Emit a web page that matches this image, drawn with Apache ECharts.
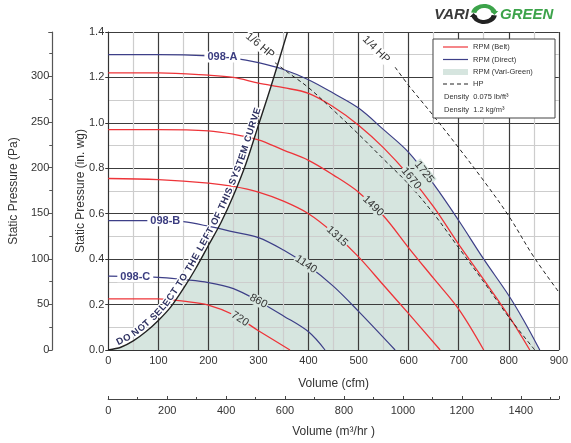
<!DOCTYPE html>
<html><head><meta charset="utf-8">
<script src="https://cdn.jsdelivr.net/npm/echarts@6/dist/echarts.min.js"></script>
<style>html,body{margin:0;padding:0;background:#fff}#c{width:571px;height:443px}</style>
</head><body><div id="c"></div>
<script>
const FONT = 'Liberation Sans, Arial, sans-serif';
// ---- data (x = cfm, y = in. wg) ----
const rpm1725 = [[0,1.30],[100,1.30],[200,1.295],[250,1.285],[300,1.265],[350,1.235],[400,1.19],[450,1.13],[500,1.065],[550,0.97],[600,0.87],[650,0.73],[700,0.57],[750,0.40],[800,0.24],[830,0.13],[862,0]];
const rpm1670 = [[0,1.22],[100,1.22],[200,1.21],[250,1.20],[300,1.175],[350,1.155],[400,1.13],[450,1.07],[500,0.99],[550,0.89],[600,0.77],[650,0.63],[700,0.465],[750,0.31],[800,0.15],[842,0]];
const rpm1490 = [[0,0.97],[100,0.97],[200,0.965],[250,0.95],[300,0.925],[350,0.88],[400,0.835],[450,0.77],[500,0.695],[550,0.59],[600,0.45],[650,0.315],[700,0.18],[750,0]];
const rpm1315 = [[0,0.755],[100,0.75],[200,0.735],[250,0.72],[300,0.695],[350,0.655],[400,0.60],[450,0.515],[500,0.41],[550,0.285],[600,0.16],[663,0]];
const rpm1140 = [[0,0.57],[100,0.57],[150,0.565],[200,0.545],[250,0.52],[300,0.495],[350,0.44],[400,0.37],[450,0.28],[500,0.17],[573,0]];
const rpm860  = [[0,0.325],[100,0.32],[150,0.31],[200,0.297],[250,0.27],[300,0.215],[350,0.15],[400,0.08],[433,0]];
const rpm720  = [[0,0.225],[100,0.225],[150,0.215],[200,0.198],[250,0.155],[300,0.085],[363,0]];
const hp16 = [[333,1.265],[360,1.22],[400,1.155],[450,1.055],[500,0.95],[550,0.84],[600,0.73],[650,0.60],[700,0.45],[750,0.30],[800,0.145],[852,0]];
const hp14 = [[573,1.245],[600,1.165],[650,1.03],[700,0.89],[750,0.745],[800,0.59],[850,0.41],[900,0.255]];
const systemCurve = [[0,0],[25,0.012],[50,0.04],[75,0.08],[100,0.13],[125,0.19],[150,0.27],[175,0.36],[200,0.46],[225,0.56],[250,0.68],[275,0.82],[300,0.99],[325,1.16],[358,1.40]];
const cfmMax = 900, wgMax = 1.4;
const PA_PER_WG = 249.089, M3H_PER_CFM = 1.699;
const curveLabels = [
  {text:'1725', data:rpm1725, at:631},
  {text:'1670', data:rpm1670, at:605},
  {text:'1490', data:rpm1490, at:529},
  {text:'1315', data:rpm1315, at:457},
  {text:'1140', data:rpm1140, at:395},
  {text:'860',  data:rpm860,  at:300},
  {text:'720',  data:rpm720,  at:263}
];
const modelLabels = [
  {text:'098-A', data:rpm1725, at:228},
  {text:'098-B', data:rpm1140, at:114},
  {text:'098-C', data:rpm860,  at:54}
];
const hpLabels = [
  {text:'1/6 HP', x:303, y:1.34, angle:-40},
  {text:'1/4 HP', x:535, y:1.323, angle:-45}
];
const curveText = 'DO NOT SELECT TO THE LEFT OF THIS SYSTEM CURVE';

const RED = '#ee3439', BLUE = '#3d3f88', FILL = '#d6e5df', TXT = '#333';
const chart = echarts.init(document.getElementById('c'), null, {renderer:'canvas'});

function lineSeries(data, color, w, extra){
  return Object.assign({type:'line', data, smooth:0.35, symbol:'none', silent:true,
    lineStyle:{color, width:w}, z:3}, extra||{});
}
const option = {
  animation:false,
  textStyle:{fontFamily:FONT},
  grid:{left:108, right:12, top:32, bottom:92, containLabel:false},
  xAxis:[
    {type:'value', min:0, max:cfmMax, interval:100, position:'bottom',
     name:'Volume (cfm)', nameLocation:'middle', nameGap:28,
     nameTextStyle:{color:TXT, fontSize:12, fontFamily:FONT},
     axisLine:{show:true, onZero:false, lineStyle:{color:'#333', width:1}},
     axisTick:{show:false},
     axisLabel:{color:TXT, fontSize:11, margin:5, fontFamily:FONT},
     splitLine:{show:true, lineStyle:{color:'#3c3c3c', width:1.2}},
     minorTick:{show:false, splitNumber:2},
     minorSplitLine:{show:true, lineStyle:{color:'#cdcdcd', width:1.2}}},
    {type:'value', min:0, max:cfmMax*M3H_PER_CFM, interval:200, position:'bottom', offset:49,
     name:'Volume (m³/hr )', nameLocation:'middle', nameGap:27,
     nameTextStyle:{color:TXT, fontSize:12, fontFamily:FONT},
     axisLine:{show:true, onZero:false, lineStyle:{color:'#444', width:1.2}},
     axisTick:{show:true, inside:true, length:3, lineStyle:{color:'#444'}},
     minorTick:{show:true, splitNumber:2, length:2, lineStyle:{color:'#444'}},
     axisLabel:{color:TXT, fontSize:11, margin:6, showMaxLabel:false, fontFamily:FONT, formatter:v=>String(Math.round(v))},
     splitLine:{show:false}}
  ],
  yAxis:[
    {type:'value', min:0, max:wgMax, interval:0.2, position:'left',
     name:'Static Pressure (in. wg)', nameLocation:'middle', nameGap:22, nameMoveOverlap:false,
     nameTextStyle:{color:TXT, fontSize:12, fontFamily:FONT},
     axisLine:{show:true, onZero:false, lineStyle:{color:'#333', width:1}},
     axisTick:{show:true, length:3, lineStyle:{color:'#333'}},
     axisLabel:{color:TXT, fontSize:11, margin:4, formatter:v=>v.toFixed(1), fontFamily:FONT},
     splitLine:{show:true, lineStyle:{color:'#3c3c3c', width:1.2}},
     minorTick:{show:false, splitNumber:2},
     minorSplitLine:{show:true, lineStyle:{color:'#cdcdcd', width:1.2}}},
    {type:'value', min:0, max:wgMax*PA_PER_WG, interval:50, position:'left', offset:56,
     name:'Static Pressure (Pa)', nameLocation:'middle', nameGap:26,
     nameTextStyle:{color:TXT, fontSize:12, fontFamily:FONT},
     axisLine:{show:true, onZero:false, lineStyle:{color:'#555', width:1.2}},
     axisTick:{show:true, length:4, lineStyle:{color:'#555'}},
     minorTick:{show:true, splitNumber:2, length:3, lineStyle:{color:'#555'}},
     axisLabel:{color:TXT, fontSize:11, margin:3, showMaxLabel:false, fontFamily:FONT},
     splitLine:{show:false}}
  ],
  series:[
    lineSeries(rpm1725, FILL, 0, {z:-2, areaStyle:{color:FILL, opacity:1, origin:'start'}}),
    lineSeries(systemCurve, '#fff', 0, {z:-1, smooth:0.3, areaStyle:{color:'#fff', opacity:1, origin:'end'}}),
    lineSeries(rpm720, RED, 1.3),
    lineSeries(rpm1315, RED, 1.3),
    lineSeries(rpm1490, RED, 1.3),
    lineSeries(rpm1670, RED, 1.3),
    lineSeries(rpm860, BLUE, 1.2),
    lineSeries(rpm1140, BLUE, 1.2),
    lineSeries(rpm1725, BLUE, 1.2),
    lineSeries(hp16, '#222', 1, {lineStyle:{color:'#222', width:1, type:[4,3]}}),
    lineSeries(hp14, '#222', 1, {lineStyle:{color:'#222', width:1, type:[4,3]}}),
    lineSeries(systemCurve, '#222', 1.4, {smooth:0.3, z:4})
  ]
};
chart.setOption(option);

// ---- annotations ----
const toPx = p => chart.convertToPixel({xAxisIndex:0, yAxisIndex:0}, p);
function interp(data, x){
  for (let i=1;i<data.length;i++){
    if (x <= data[i][0]){
      const [x0,y0]=data[i-1], [x1,y1]=data[i];
      return y0 + (y1-y0)*(x-x0)/(x1-x0);
    }
  }
  return data[data.length-1][1];
}
function angleAt(data, x){
  const a = toPx([x-8, interp(data, x-8)]), b = toPx([x+8, interp(data, x+8)]);
  return Math.atan2(-(b[1]-a[1]), b[0]-a[0]);
}
const g = [];
curveLabels.forEach(l=>{
  const p = toPx([l.at, interp(l.data, l.at)]);
  g.push({type:'text', x:p[0], y:p[1], rotation:angleAt(l.data, l.at), z:50,
    style:{text:l.text, align:'center', verticalAlign:'middle', fill:'#333',
      font:'11px '+FONT, backgroundColor:FILL, padding:[0,1]}});
});
modelLabels.forEach(l=>{
  const p = toPx([l.at, interp(l.data, l.at)]);
  g.push({type:'text', x:p[0], y:p[1], z:50,
    style:{text:l.text, align:'center', verticalAlign:'middle', fill:'#3b3d80',
      font:'bold 11px '+FONT, backgroundColor:'#fff', padding:[0,3]}});
});
hpLabels.forEach(l=>{
  const p = toPx([l.x, l.y]);
  g.push({type:'text', x:p[0], y:p[1], rotation:l.angle*Math.PI/180, z:50,
    style:{text:l.text, align:'center', verticalAlign:'middle', fill:'#333',
      font:'11px '+FONT, backgroundColor:'#fff', padding:[0,1]}});
});
// text along the system curve
(function(){
  const pts = systemCurve.map(toPx);
  const cum=[0];
  for (let i=1;i<pts.length;i++) cum.push(cum[i-1]+Math.hypot(pts[i][0]-pts[i-1][0], pts[i][1]-pts[i-1][1]));
  function at(s){
    let i=1; while(i<pts.length-1 && cum[i]<s) i++;
    const t=(s-cum[i-1])/(cum[i]-cum[i-1]);
    const a=pts[i-1], b=pts[i];
    return {x:a[0]+(b[0]-a[0])*t, y:a[1]+(b[1]-a[1])*t, ang:Math.atan2(-(b[1]-a[1]), b[0]-a[0])};
  }
  function arcAtX(x){
    const q=toPx([x, interp(systemCurve,x)]);
    let best=0,bd=1e9;
    for(let s=0;s<cum[cum.length-1];s+=0.5){const p=at(s);const d=Math.hypot(p.x-q[0],p.y-q[1]);if(d<bd){bd=d;best=s;}}
    return best;
  }
  const font='bold 9.5px '+FONT;
  const ctx=document.createElement('canvas').getContext('2d'); ctx.font=font;
  const ws=[...curveText].map(c=>ctx.measureText(c).width);
  const tot=ws.reduce((a,b)=>a+b,0);
  const s0=arcAtX(22), s1=arcAtX(310);
  const extra=(s1-s0-tot)/(ws.length-1);
  let s=s0;
  [...curveText].forEach((c,i)=>{
    const p=at(s+ws[i]/2);
    const off=5.5;
    const ux=-Math.sin(p.ang), uy=-Math.cos(p.ang);
    g.push({type:'text', x:p.x+ux*off, y:p.y+uy*off, rotation:p.ang, z:40,
      style:{text:c, align:'center', verticalAlign:'middle', fill:'#2f3262', font,
        stroke:'#fff', lineWidth:2.5}});
    s+=ws[i]+extra;
  });
})();
// legend box
const LX=433, LY=39;
g.push({type:'rect', shape:{x:LX, y:LY, width:122, height:79}, z:60,
  style:{fill:'#fff', stroke:'#444', lineWidth:1}});
const leg=[
  {kind:'line', color:RED, text:'RPM (Belt)', y:47},
  {kind:'line', color:BLUE, text:'RPM (Direct)', y:59.5},
  {kind:'box', color:FILL, text:'RPM (Vari-Green)', y:72},
  {kind:'dash', color:'#222', text:'HP', y:84}
];
leg.forEach(it=>{
  if(it.kind==='box') g.push({type:'rect', shape:{x:LX+10,y:it.y-3,width:25,height:6}, z:61, style:{fill:it.color}});
  else g.push({type:'line', shape:{x1:LX+10,y1:it.y,x2:LX+35,y2:it.y}, z:61,
    style:{stroke:it.color, lineWidth:1.2, lineDash: it.kind==='dash'?[4,3]:null}});
  g.push({type:'text', x:LX+40, y:it.y, z:61, style:{text:it.text, fill:'#333', font:'7.5px '+FONT, verticalAlign:'middle'}});
});
g.push({type:'text', x:LX+11, y:97, z:61, style:{text:'Density  0.075 lb/ft³', fill:'#333', font:'7.5px '+FONT, verticalAlign:'middle'}});
g.push({type:'text', x:LX+11, y:109.5, z:61, style:{text:'Density  1.2 kg/m³', fill:'#333', font:'7.5px '+FONT, verticalAlign:'middle'}});
// logo
g.push({type:'text', x:469, y:15, z:61, style:{text:'VARI', fill:'#3a3a3a', font:'italic bold 15px '+FONT, align:'right', verticalAlign:'middle'}});
g.push({type:'group', x:484, y:14, scaleX:1.3, z:61, children:[
  {type:'arc', shape:{cx:0, cy:0, r:8, startAngle:Math.PI*1.05, endAngle:Math.PI*1.95}, style:{stroke:'#3ca34a', lineWidth:4, fill:null}},
  {type:'arc', shape:{cx:0, cy:0, r:8, startAngle:Math.PI*0.05, endAngle:Math.PI*0.95}, style:{stroke:'#222', lineWidth:4, fill:null}},
  {type:'polygon', shape:{points:[[5,-3],[11,-3],[8,1]]}, style:{fill:'#3ca34a'}},
  {type:'polygon', shape:{points:[[-5,3],[-11,3],[-8,-1]]}, style:{fill:'#222'}}
]});
g.push({type:'text', x:500, y:15, z:61, style:{text:'GREEN', fill:'#3ca34a', font:'italic bold 15px '+FONT, verticalAlign:'middle'}});
chart.setOption({graphic:g});
</script></body></html>
